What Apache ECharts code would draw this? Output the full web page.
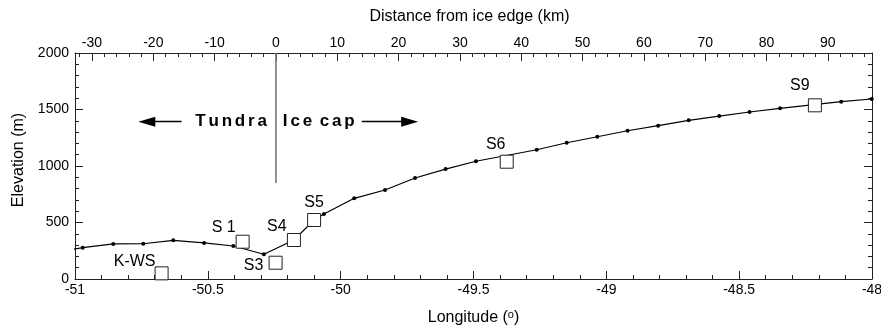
<!DOCTYPE html>
<html>
<head>
<meta charset="utf-8">
<script src="https://cdn.jsdelivr.net/npm/echarts@6/dist/echarts.min.js"></script>
<style>
  html, body { margin: 0; padding: 0; background: #fff; }
  #chart { width: 881px; height: 331px; }
</style>
</head>
<body>
<div id="chart"></div>
<script>
// Surface elevation profile along the transect (longitude in degrees, elevation in m)
const profileLon  = [-51.087, -50.971, -50.856, -50.743, -50.630, -50.514, -50.404, -50.289,
                     -50.176, -50.100, -50.063, -49.949, -49.833, -49.720, -49.605, -49.491,
                     -49.262, -49.149, -49.034, -48.920, -48.805, -48.690, -48.575, -48.461,
                     -48.346, -48.116, -48.001];
const profileElev = [235, 277, 310, 312, 342, 319, 292, 219,
                     345, 522, 575, 714, 788, 894, 973, 1042,
                     1144, 1206, 1259, 1312, 1357, 1404, 1442, 1478,
                     1510, 1569, 1593];

// Stations along the transect
const stationNames = ['K-WS', 'S 1', 'S3', 'S4', 'S5', 'S6', 'S9'];
const stationLon   = [-50.674, -50.369, -50.245, -50.176, -50.100, -49.375, -48.215];
const stationElev  = [50, 330, 144, 345, 522, 1038, 1537];

// Ice edge marker on the distance axis
const iceEdgeKm   = [0, 0];
const iceEdgeElev = [2000, 850];

// Region annotation
const regionNames = ['Tundra', 'Ice cap'];
const regionKm    = [-1.25, 0.9];
const regionElev  = [1392, 1392];
const arrowTailKm = [-15.4, 14.0];
const arrowHeadKm = [-21.06, 21.81];
const arrowElev   = 1392;

// Axis ranges
const lonMin = -51, lonMax = -48, lonStep = 0.5;
const kmMin = -32.77, kmMax = 97.2, kmStep = 10;
const elevMin = 0, elevMax = 2000, elevStep = 500;

// ---------------------------------------------------------------------------
const FONT = '"Liberation Sans", Arial, Helvetica, sans-serif';
const INK = '#000';
const FRAME = '#222';

// where each station name sits relative to its square (px)
const stationLabelOffset = {
  'K-WS': [-27, -12],
  'S 1':  [-19, -14],
  'S3':   [-22, 3],
  'S4':   [-17, -13],
  'S5':   [0, -17],
  'S6':   [-11, -17],
  'S9':   [-15, -20]
};

// bold, letter-spaced annotation text built from rich-text fragments
const spacedRich = s => s.split('').map(ch => ch === ' ' ? '{w| }' : '{c|' + ch + '}').join('');

function makeAxis(extra) {
  return Object.assign({
    axisLine: { show: true, onZero: false, lineStyle: { color: FRAME, width: 1 } },
    axisTick: { show: true, inside: true, length: 8, lineStyle: { color: FRAME, width: 1 } },
    minorTick: { show: true, splitNumber: 5, length: 4, lineStyle: { color: FRAME, width: 1 } },
    splitLine: { show: false },
    nameTextStyle: { color: INK, fontFamily: FONT, fontSize: 16 }
  }, extra);
}
const labelStyle = extra => Object.assign({ color: INK, fontFamily: FONT, fontSize: 14 }, extra);

const profileData = profileLon.map((x, i) => [x, profileElev[i]]);
const stationData = stationLon.map((x, i) => ({
  value: [x, stationElev[i]],
  name: stationNames[i],
  label: { offset: stationLabelOffset[stationNames[i]] || [0, -16] }
}));
const regionData = regionKm.map((x, i) => ({
  value: [x, regionElev[i]],
  label: {
    formatter: spacedRich(regionNames[i]),
    align: i === 0 ? 'right' : 'left'
  }
}));
const arrowData = arrowTailKm.map((t, i) => [
  { coord: [t, arrowElev], symbol: 'none' },
  { coord: [arrowHeadKm[i], arrowElev], symbol: 'triangle' }
]);

const chart = echarts.init(document.getElementById('chart'), null, { renderer: 'canvas' });

chart.setOption({
  animation: false,
  backgroundColor: '#fff',
  textStyle: { fontFamily: FONT },
  grid: { left: 75, right: 9, top: 53, bottom: 52, containLabel: false, outerBoundsMode: 'none' },
  xAxis: [
    makeAxis({
      type: 'value', position: 'bottom',
      min: lonMin, max: lonMax, interval: lonStep,
      name: 'Longitude ({s|o})',
      nameLocation: 'middle', nameGap: 30,
      nameTextStyle: {
        color: INK, fontFamily: FONT, fontSize: 16,
        rich: { s: { fontFamily: FONT, fontSize: 11, color: INK, verticalAlign: 'top', padding: [0, 0, 6, 0] } }
      },
      axisLabel: labelStyle({ margin: 4 })
    }),
    makeAxis({
      type: 'value', position: 'top',
      min: kmMin, max: kmMax, minInterval: kmStep, maxInterval: kmStep, splitNumber: 13,
      name: 'Distance from ice edge (km)',
      nameLocation: 'middle', nameGap: 28,
      nameTextStyle: { color: INK, fontFamily: FONT, fontSize: 16, padding: [0, 8, 0, 0] },
      axisLabel: labelStyle({ margin: 3, showMinLabel: false, showMaxLabel: false })
    })
  ],
  yAxis: [
    makeAxis({
      type: 'value', position: 'left',
      min: elevMin, max: elevMax, interval: elevStep,
      name: 'Elevation (m)',
      nameLocation: 'middle', nameGap: 48,
      nameTextStyle: { color: INK, fontFamily: FONT, fontSize: 16, padding: [0, 0, 0, 12] },
      axisLabel: labelStyle({ margin: 6, formatter: v => String(v) })
    }),
    makeAxis({
      type: 'value', position: 'right',
      min: elevMin, max: elevMax, interval: elevStep,
      axisLabel: { show: false }
    })
  ],
  series: [
    {
      name: 'ice edge',
      type: 'line',
      xAxisIndex: 1, yAxisIndex: 0,
      data: iceEdgeKm.map((x, i) => [x, iceEdgeElev[i]]),
      symbol: 'none',
      lineStyle: { color: '#777', width: 1.6 },
      silent: true, z: 1
    },
    {
      name: 'regions',
      type: 'scatter',
      xAxisIndex: 1, yAxisIndex: 0,
      data: regionData,
      symbolSize: 0,
      silent: true,
      itemStyle: { opacity: 1 },
      label: {
        show: true, position: 'inside', verticalAlign: 'middle',
        rich: {
          c: { color: '#000', fontFamily: FONT, fontSize: 17, fontWeight: 'bold', padding: [0, 1.4, 0, 1.4] },
          w: { color: '#000', fontFamily: FONT, fontSize: 17, fontWeight: 'bold' }
        }
      },
      markLine: {
        silent: true,
        symbolSize: [10, 17],
        label: { show: false },
        lineStyle: { color: '#000', width: 1.3, type: 'solid', opacity: 1 },
        itemStyle: { color: '#000', opacity: 1 },
        emphasis: { disabled: true },
        data: arrowData
      },
      z: 2
    },
    {
      name: 'profile',
      type: 'line',
      xAxisIndex: 0, yAxisIndex: 0,
      data: profileData,
      symbol: 'circle', symbolSize: 4,
      showAllSymbol: true,
      itemStyle: { color: '#000', opacity: 1 },
      lineStyle: { color: '#000', width: 1.2 },
      clip: true, silent: true, z: 3
    },
    {
      name: 'stations',
      type: 'scatter',
      xAxisIndex: 0, yAxisIndex: 0,
      data: stationData,
      symbol: 'rect', symbolSize: 13,
      itemStyle: { color: '#fff', borderColor: FRAME, borderWidth: 1, opacity: 1 },
      label: {
        show: true, position: 'inside',
        formatter: p => p.name,
        color: INK, fontFamily: FONT, fontSize: 16
      },
      silent: true, z: 4
    }
  ]
});
</script>
</body>
</html>
